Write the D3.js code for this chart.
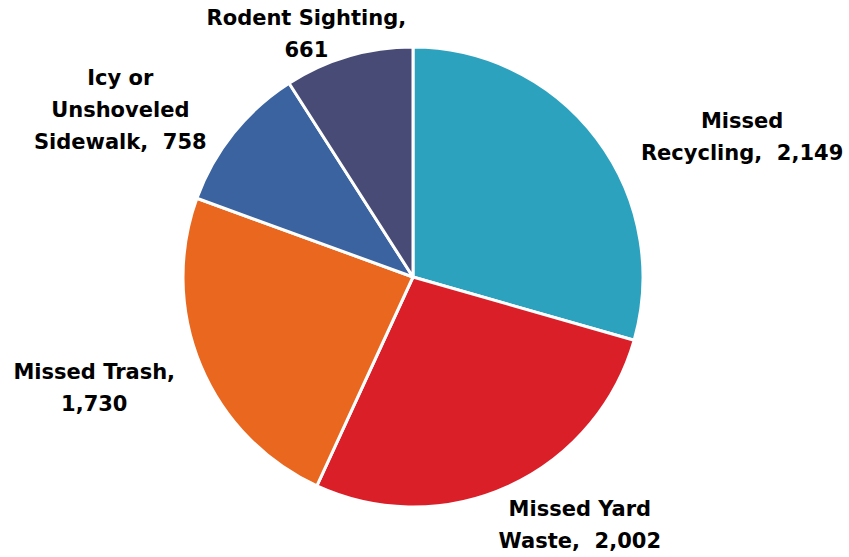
<!DOCTYPE html>
<html>
<head>
<meta charset="utf-8">
<script src="https://cdn.jsdelivr.net/npm/d3@7"></script>
<style>
  html, body { margin: 0; padding: 0; background: #fff; }
  text { font-family: 'Century Gothic', 'DejaVu Sans', sans-serif; font-weight: bold; white-space: pre; }
</style>
</head>
<body>
<div id="chart"></div>
<script>
const categories = ['Missed Recycling', 'Missed Yard Waste', 'Missed Trash', 'Icy or Unshoveled Sidewalk', 'Rodent Sighting'];
const values = [2149, 2002, 1730, 758, 661];
const labelLines = [
  ['Missed', 'Recycling,'],
  ['Missed Yard', 'Waste,'],
  ['Missed Trash,', ''],
  ['Icy or', 'Unshoveled', 'Sidewalk,'],
  ['Rodent Sighting,', ''],
];
const sliceColors = ['#2DA2BF', '#DA1F29', '#E9671E', '#3A63A0', '#474B75'];

const width = 849;
const height = 557;
const cx = 413;
const cy = 277;
const radius = 230;
const lineHeight = 32;

// label nudges away from the mid-angle anchor (best-fit placement)
const labelNudge = [[94, 37], [44, -20], [-47, -3], [-63, 17], [-24, 39]];

const fmt = d3.format(',');

const svg = d3.select('#chart')
  .append('svg')
  .attr('width', width)
  .attr('height', height);

const g = svg.append('g').attr('transform', `translate(${cx},${cy})`);

const data = categories.map((c, i) => ({ name: c, value: values[i], i }));

const pie = d3.pie().sort(null).value(d => d.value);
const arc = d3.arc().innerRadius(0).outerRadius(radius);
const labelArc = d3.arc().innerRadius(radius * 1.28).outerRadius(radius * 1.28);

const arcs = pie(data);

g.selectAll('path.slice')
  .data(arcs)
  .enter()
  .append('path')
  .attr('class', 'slice')
  .attr('d', arc)
  .attr('fill', d => sliceColors[d.data.i])
  .attr('stroke', '#fff')
  .attr('stroke-width', 3)
  .attr('stroke-linejoin', 'round');

const labels = g.selectAll('text.label')
  .data(arcs)
  .enter()
  .append('text')
  .attr('class', 'label')
  .attr('text-anchor', 'middle')
  .attr('font-size', 21)
  .attr('fill', '#000')
  .attr('transform', d => {
    const c = labelArc.centroid(d);
    const n = labelNudge[d.data.i];
    return `translate(${c[0] + n[0]},${c[1] + n[1]})`;
  });

labels.each(function(d) {
  const lines = labelLines[d.data.i].slice();
  const last = lines.length - 1;
  const v = fmt(d.data.value);
  lines[last] = lines[last] === '' ? v : lines[last] + '  ' + v;
  const t = d3.select(this);
  lines.forEach((line, k) => {
    t.append('tspan')
      .attr('x', 0)
      .attr('y', (k - (lines.length - 1) / 2) * lineHeight)
      .attr('dy', '0.35em')
      .text(line);
  });
});
</script>
</body>
</html>
